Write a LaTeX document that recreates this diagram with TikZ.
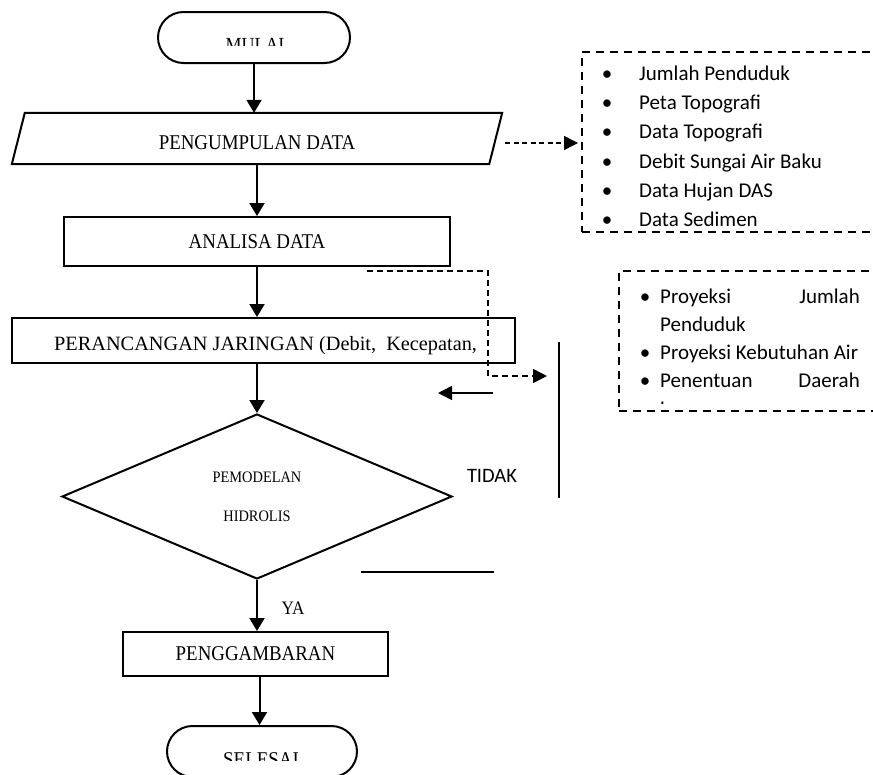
\documentclass[tikz,border=0pt]{standalone}
\usepackage{fontspec}
\setmainfont{Liberation Serif}
\newfontfamily\serifc[FakeStretch=0.9]{Liberation Serif}
\newfontfamily\sansf{Carlito}
\usetikzlibrary{arrows.meta,shapes.geometric,shapes.misc}
\begin{document}
\begin{tikzpicture}[x=1pt,y=-1pt,
  box/.style={draw, line width=2pt, rectangle, inner sep=0pt},
  term/.style={draw, line width=2pt, rounded rectangle, inner sep=0pt},
  arr/.style={line width=2pt, -{Triangle[length=13pt,width=15pt]}},
  dbox/.style={draw, line width=2pt, dash pattern=on 8pt off 6pt, rectangle, inner sep=0pt},
  darr/.style={line width=1.5pt, dash pattern=on 5pt off 3.5pt, -{Triangle[length=14pt,width=14pt]}},
  thinline/.style={line width=1.5pt},
  sf/.style={font=\sansf\fontsize{21}{25}\selectfont, inner sep=0pt, anchor=base west},
  rm/.style={font=\serifc\fontsize{21}{25}\selectfont, inner sep=0pt},
]
\clip (0,0) rectangle (873,774);
\fill[white] (0,0) rectangle (873,774);

% start
\node[term, minimum width=192pt, minimum height=51pt] (mulai) at (254,37.5) {};
\begin{scope}
  \clip (150,0) rectangle (360,45.5);
  \node[rm, font=\serifc\fontsize{20}{22}\selectfont, anchor=base] (mulaitxt) at (255,51.2) {MULAI};
\end{scope}

% data collection (parallelogram)
\node[minimum width=477pt, minimum height=51pt, inner sep=0pt] (data) at (257,138.5) {};
\draw[line width=2pt] ([xshift=6.5pt]data.north west) -- ([xshift=6.5pt]data.north east)
  -- ([xshift=-6.5pt]data.south east) -- ([xshift=-6.5pt]data.south west) -- cycle;
\node[rm] (datatxt) at (257,142.5) {PENGUMPULAN DATA};

\node[box, rm, minimum width=386pt, minimum height=49pt] (analisa) at (257,241.5) {ANALISA DATA};

\node[box, minimum width=503pt, minimum height=45pt] (peranc) at (263.5,340.5) {};
\node[inner sep=0pt, font=\fontsize{20.3}{24}\selectfont, anchor=base west] (peranctxt) at (54,350) {PERANCANGAN JARINGAN (Debit,\ \ Kecepatan,};

\node[draw, line width=2pt, diamond, minimum width=390pt, minimum height=165pt, inner sep=0pt,
  align=center, font=\serifc\fontsize{16}{18}\selectfont] (hid) at (257,496.5) {PEMODELAN\\[21pt]HIDROLIS};

\node[box, rm, minimum width=265pt, minimum height=44pt] (gamb) at (255.5,654) {PENGGAMBARAN};

\node[term, minimum width=190pt, minimum height=51pt] (selesai) at (262,751.5) {};
\begin{scope}
  \clip (150,700) rectangle (380,760);
  \node[rm, anchor=base] (selesaitxt) at (261,766) {SELESAI};
\end{scope}

% main arrows
\draw[arr] (mulai.south) -- (mulai.south |- data.north);
\draw[arr] (data.south) -- (data.south |- analisa.north);
\draw[arr] (analisa.south) -- (analisa.south |- peranc.north);
\draw[arr] (analisa.south |- peranc.south) -- (hid.north);
\draw[arr] (hid.south) -- (hid.south |- gamb.north);
\node[rm, font=\serifc\fontsize{19}{22}\selectfont] (ya) at (293,608) {YA};
\draw[arr] ([xshift=4pt]gamb.south) -- ([xshift=4pt]gamb.south |- selesai.north);

% box 1
\node[dbox, minimum width=320pt, minimum height=180pt, anchor=north west] (box1) at (581,51) {};
\coordinate (d1) at (505,143);
\draw[darr, shorten >=3pt] (d1) -- (d1 -| box1.west);
\foreach \t [count=\i from 0] in {Jumlah Penduduk, Peta Topografi, Data Topografi, Debit Sungai Air Baku, Data Hujan DAS, Data Sedimen} {
  \node[sf, anchor=base] (b1dot\i) at (607, 80.5+29.2*\i) {•};
  \node[sf] (b1txt\i) at (639, 80.5+29.2*\i) {\t};
}

% box 2
\node[dbox, minimum width=300pt, minimum height=140pt, anchor=north west] (box2) at (618,270) {};
\begin{scope}
  \clip (620,272) rectangle (873,403);
  \node[sf, anchor=base] (b2dot1) at (645,303) {•};
  \node[sf] (b2l1a) at (660,303) {Proyeksi};
  \node[sf, anchor=base east] (b2l1b) at (860,303) {Jumlah};
  \node[sf] (b2l2) at (660,331) {Penduduk};
  \node[sf, anchor=base] (b2dot2) at (645,359) {•};
  \node[sf] (b2l3) at (660,359) {Proyeksi Kebutuhan Air};
  \node[sf, anchor=base] (b2dot3) at (645,387) {•};
  \node[sf] (b2l4a) at (660,387) {Penentuan};
  \node[sf, anchor=base east] (b2l4b) at (860,387) {Daerah};
  \node[sf] (b2l5) at (660,415) {Layanan};
\end{scope}

% dashed connector from analysis
\coordinate (a1) at (367,271);
\coordinate (a2) at (488,376);
\coordinate (a3) at (547,376);
\draw[line width=1.5pt, dash pattern=on 6pt off 4pt, -{Triangle[length=14pt,width=14pt]}] (a1) -| (a2) -- (a3);

% loose lines
\coordinate (vtop) at (559,342);
\coordinate (vbot) at (559,498);
\draw[thinline] (vtop) -- (vbot);
\coordinate (l1) at (493,393);
\coordinate (l2) at (438,393);
\draw[thinline, -{Triangle[length=14pt,width=14pt]}] (l1) -- (l2);
\coordinate (h1) at (361,572);
\coordinate (h2) at (494,572);
\draw[thinline] (h1) -- (h2);
\node[sf, anchor=center, font=\sansf\fontsize{20.5}{24}\selectfont] (tidak) at (492,476) {TIDAK};
\end{tikzpicture}
\end{document}
